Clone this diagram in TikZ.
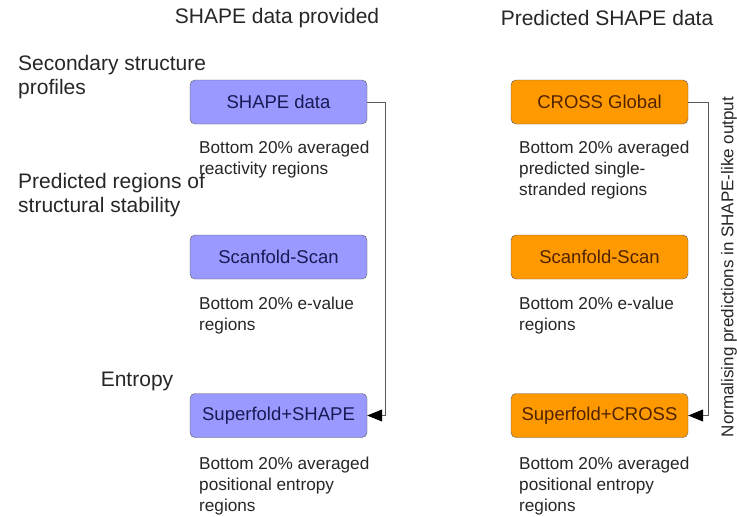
\documentclass[tikz,border=0pt]{standalone}
\usepackage{fontspec}
\setmainfont{Liberation Sans}
\usepackage{xcolor}
\usetikzlibrary{arrows.meta}

\definecolor{shapeblue}{RGB}{153,153,255}
\definecolor{crossorange}{RGB}{255,153,0}
\definecolor{bluetext}{RGB}{25,25,85}
\definecolor{browntext}{RGB}{80,35,0}

\tikzset{
  method/.style={draw=black!65, rounded corners=5pt, minimum width=177pt, minimum height=44pt, inner sep=0pt, font=\fontsize{18.5}{21}\selectfont},
  provided/.style={method, fill=shapeblue, text=bluetext},
  predicted/.style={method, fill=crossorange, text=browntext},
  descr/.style={anchor=north west, align=left, inner sep=0pt, text=black!85, font=\fontsize{17.2}{20.8}\selectfont},
  rowlabel/.style={align=left, inner sep=0pt, text=black!85, font=\fontsize{21}{23.5}\selectfont},
  heading/.style={inner sep=0pt, text=black!85, font=\fontsize{21}{24}\selectfont},
  feed/.style={draw=black!65, line width=0.9pt, -{Triangle[length=15pt,width=12pt,color=black,fill=black]}}
}

\begin{document}
\begin{tikzpicture}[x=1pt,y=-1pt]
\useasboundingbox (0,0) rectangle (737,517);

% column headings
\node[heading] (HL) at (277,18) {SHAPE data provided};
\node[heading] (HR) at (607,18) {Predicted SHAPE data};

% row labels
\node[rowlabel, anchor=west] (L1) at (18,77) {Secondary structure\\profiles};
\node[rowlabel, anchor=west] (L2) at (18,195) {Predicted regions of\\structural stability};
\node[rowlabel] (L3) at (137,381) {Entropy};

% SHAPE data provided
\node[provided] (SD) at (278.5,102) {SHAPE data};
\node[provided] (SS) at (278.5,257) {Scanfold-Scan};
\node[provided] (SF) at (278.5,415.5) {Superfold+SHAPE};

\node[descr] (DSD) at (199,141) {Bottom 20\% averaged\\reactivity regions};
\node[descr] (DSS) at (199,297) {Bottom 20\% e-value\\regions};
\node[descr] (DSF) at (199,457) {Bottom 20\% averaged\\positional entropy\\regions};

% predicted SHAPE data
\node[predicted] (CG) at (599.5,102) {CROSS Global};
\node[predicted] (CS) at (599.5,257) {Scanfold-Scan};
\node[predicted] (CF) at (599.5,415.5) {Superfold+CROSS};

\node[descr] (DCG) at (519,141) {Bottom 20\% averaged\\predicted single-\\stranded regions};
\node[descr] (DCS) at (519,297) {Bottom 20\% e-value\\regions};
\node[descr] (DCF) at (519,457) {Bottom 20\% averaged\\positional entropy\\regions};

% feedback lines
\coordinate (KL) at (385,102);
\coordinate (KR) at (708,102);
\draw[feed] (SD.east) -- (KL) |- (SF.east);
\draw[feed] (CG.east) -- (KR) |- (CF.east);

\node[rotate=90, inner sep=0pt, text=black!85, font=\fontsize{17}{19}\selectfont] (N) at (729,267) {Normalising predictions in SHAPE-like output};
\end{tikzpicture}
\end{document}
